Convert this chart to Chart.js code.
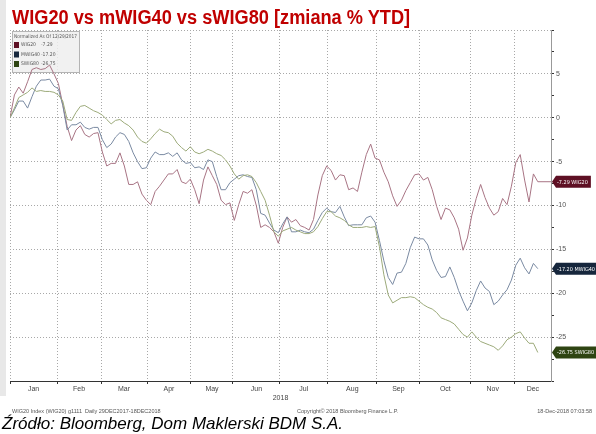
<!DOCTYPE html>
<html>
<head>
<meta charset="utf-8">
<script src="https://cdn.jsdelivr.net/npm/chart.js@4.4.1/dist/chart.umd.min.js"></script>
<style>
  body { margin: 0; width: 596px; height: 434px; background: #fff; position: relative; overflow: hidden; }
  #strip { position: absolute; left: 0; top: 0; width: 6px; height: 396px; background: #e8e8e8; }
  #title { position: absolute; left: 12px; top: 7px; font: bold 20px/1 "Liberation Sans", Arial, sans-serif; color: #c00000; white-space: nowrap; transform: scaleX(0.91); transform-origin: left top; }
  #c { position: absolute; left: 0; top: 0; }
  #source { position: absolute; left: 2px; top: 415px; font: italic 17px/1 "Liberation Sans", Arial, sans-serif; color: #000; white-space: nowrap; }
</style>
</head>
<body>
<div id="strip"></div>
<canvas id="c" width="596" height="434"></canvas>
<div id="title">WIG20 vs mWIG40 vs sWIG80 [zmiana % YTD]</div>
<div id="source">Źródło: Bloomberg, Dom Maklerski BDM S.A.</div>
<script>
// trading days since 29 Dec 2017, sampled every 2 sessions
const days = Array.from({ length: 121 }, (_, i) => i * 2);

const wig20 = [
  0, 2.6, 3.5, 2.8, 4.1, 5.5, 5.7, 5.5, 5.6, 6.0,
  5.0, 3.9, 1.5, -1.0, -2.6, -1.4, -0.9, -1.9, -2.2, -1.8,
  -1.7, -3.9, -5.5, -5.2, -5.2, -4.0, -5.5, -7.6, -7.6, -7.3,
  -8.7, -9.4, -9.9, -8.4, -7.8, -7.1, -6.4, -6.4, -5.9, -7.3,
  -7.5, -7.0, -8.2, -9.8, -7.1, -5.6, -6.6, -7.6, -9.4, -9.9,
  -9.7, -11.7, -9.9, -8.4, -8.6, -8.2, -10.0, -12.5, -12.2, -12.5,
  -13.0, -14.3, -12.5, -11.3, -11.9, -11.6, -12.3, -12.5, -12.8, -11.6,
  -8.8, -6.6, -5.5, -6.0, -7.1, -6.5, -6.6, -8.2, -8.0, -8.4,
  -6.2, -4.2, -3.0, -4.6, -4.8, -6.2, -7.3, -8.9, -10.1, -9.4,
  -8.3, -7.4, -6.5, -6.4, -7.1, -6.8, -8.2, -10.1, -11.6, -10.3,
  -10.5, -11.4, -12.7, -15.1, -13.7, -11.1, -9.2, -7.6, -9.1, -10.3,
  -11.1, -10.7, -9.2, -9.9, -7.8, -5.1, -4.2, -7.1, -9.6, -6.4,
  -7.29
];

const mwig40 = [
  0, 0.9, 1.9, 1.9, 1.1, 2.4, 3.6, 4.3, 4.3, 4.4,
  3.6, 3.3, 1.4, -1.4, -0.8, -0.8, -0.5, -1.1, -1.3, -1.1,
  -1.1, -2.5, -3.4, -3.0, -2.2, -1.7, -1.9, -2.7, -4.0, -5.0,
  -5.8, -5.7, -4.6, -3.9, -4.2, -4.2, -4.0, -4.4, -4.0, -4.8,
  -5.2, -5.1, -5.7, -5.6, -5.9, -4.8, -5.0, -6.7, -8.2, -8.2,
  -7.4, -7.0, -6.6, -6.5, -6.7, -6.8, -8.2, -10.9, -11.1, -12.0,
  -12.8, -13.1, -12.1, -11.3, -13.0, -13.0, -12.8, -13.0, -13.1, -12.7,
  -11.7, -10.8, -10.3, -10.7, -10.8, -10.1, -11.3, -12.3, -12.2, -12.2,
  -12.2, -11.4, -11.2, -11.9, -14.0, -16.3, -18.2, -19.0, -17.7, -17.6,
  -16.6, -14.8, -13.6, -13.8, -13.8, -14.5, -16.2, -17.4, -18.2, -18.1,
  -17.0, -18.2, -19.7, -20.9, -22.0, -21.1, -19.7, -18.6, -19.4, -19.8,
  -21.3, -20.9, -20.2, -19.6, -18.5, -16.8, -16.0, -17.1, -17.8, -16.6,
  -17.20
];

const swig80 = [
  0, 1.1, 2.3, 2.6, 2.9, 3.4, 3.0, 3.1, 3.0, 3.0,
  2.9, 2.6, 1.9, -0.2, -0.3, 0.6, 1.3, 1.4, 1.1, 0.8,
  0.6, 0.3, -0.2, -0.7, -0.3, -0.2, -0.6, -0.9, -1.4, -2.2,
  -2.7, -2.9, -2.4, -1.8, -1.3, -1.6, -1.7, -2.1, -2.9, -3.4,
  -3.8, -3.3, -3.9, -4.1, -3.9, -3.6, -3.8, -4.1, -4.3, -4.8,
  -5.5, -6.4, -7.0, -6.6, -6.5, -6.7, -7.4, -8.4, -9.4, -11.1,
  -13.0, -13.5, -12.9, -12.7, -12.5, -12.8, -13.0, -13.2, -13.2, -13.0,
  -12.4, -11.5, -10.7, -10.7, -11.2, -11.4, -11.7, -12.2, -12.5, -12.5,
  -12.5, -12.4, -12.5, -12.4, -14.7, -17.9, -20.2, -21.1, -20.8, -20.5,
  -20.5, -20.4, -20.5, -20.9, -21.3, -21.6, -21.8, -22.2, -22.8, -23.0,
  -23.2, -23.5, -24.1, -24.7, -25.0, -24.4, -25.0, -25.5, -25.7, -25.9,
  -26.1, -26.5, -26.0, -25.3, -25.0, -24.6, -24.4, -25.1, -25.7, -25.7,
  -26.75
];

const seriesNames = ['WIG20', 'MWIG40', 'SWIG80'];
const lineColors = ['#a87484', '#7a8aa2', '#9caa7a'];
const tagColors = ['#5e1024', '#16263c', '#2e4412'];

const monthNames = ['Jan', 'Feb', 'Mar', 'Apr', 'May', 'Jun', 'Jul', 'Aug', 'Sep', 'Oct', 'Nov', 'Dec'];
// first session of each month, in trading days
const monthStarts = [0, 21.4, 41.4, 62.3, 82.3, 101.4, 122.7, 144.5, 166.8, 186.4, 209.5, 229.5];
const dayMax = 246;
const monthMids = monthStarts.map((s, i) => (s + (monthStarts[i + 1] ?? dayMax)) / 2);

const yMin = -30, yMax = 10;

const smallFont = '"Liberation Sans", Arial, sans-serif';
const narrowFont = '"Liberation Sans Narrow", "DejaVu Sans Condensed", "Liberation Sans", Arial, sans-serif';

const decorations = {
  id: 'decorations',
  beforeDatasetsDraw(chart) {
    const ctx = chart.ctx;
    ctx.save();
    ctx.fillStyle = 'rgba(238,238,238,0.85)';
    ctx.fillRect(12, 31, 67, 41);
    ctx.strokeStyle = '#b4b4b4';
    ctx.lineWidth = 1;
    ctx.strokeRect(12.5, 31.5, 67, 41);
    ctx.font = '5px ' + narrowFont;
    ctx.fillStyle = '#555';
    ctx.textBaseline = 'middle';
    ctx.fillText('Normalized As Of 12/29/2017', 14, 37, 63);
    const last = [wig20, mwig40, swig80].map(a => a[a.length - 1].toFixed(2));
    seriesNames.forEach((n, i) => {
      const y = 45 + i * 9.5;
      ctx.fillStyle = tagColors[i];
      ctx.fillRect(14, y - 3, 5, 6);
      ctx.fillStyle = '#555';
      ctx.fillText(n, 21, y);
      ctx.fillText(last[i], 41, y);
    });
    ctx.restore();
  },
  afterDraw(chart) {
    const { ctx, scales } = chart;
    const ys = scales.y, xs = scales.x;
    ctx.save();
    // connector for WIG20 last value
    const yW = ys.getPixelForValue(wig20[wig20.length - 1]);
    ctx.strokeStyle = lineColors[0];
    ctx.lineWidth = 1;
    ctx.beginPath();
    ctx.moveTo(xs.getPixelForValue(days[days.length - 1]), yW);
    ctx.lineTo(551, yW);
    ctx.stroke();

    ctx.font = '5.5px ' + narrowFont;
    ctx.textBaseline = 'middle';
    [wig20, mwig40, swig80].forEach((arr, i) => {
      const v = arr[arr.length - 1];
      const y = ys.getPixelForValue(v);
      const txt = v.toFixed(2) + ' ' + seriesNames[i];
      const w = Math.min(ctx.measureText(txt).width + 8, 44);
      const x0 = 552;
      ctx.fillStyle = tagColors[i];
      ctx.beginPath();
      ctx.moveTo(x0, y);
      ctx.lineTo(x0 + 4, y - 6);
      ctx.lineTo(x0 + w, y - 6);
      ctx.lineTo(x0 + w, y + 6);
      ctx.lineTo(x0 + 4, y + 6);
      ctx.closePath();
      ctx.fill();
      ctx.fillStyle = '#fff';
      ctx.fillText(txt, x0 + 5, y + 0.5, w - 6);
    });

    ctx.font = '5.5px ' + smallFont;
    ctx.fillStyle = '#555';
    ctx.fillText('WIG20 Index (WIG20) g1111  Daily 29DEC2017-18DEC2018', 12, 411);
    ctx.fillText('Copyright\u00a9 2018 Bloomberg Finance L.P.', 297, 411);
    ctx.textAlign = 'right';
    ctx.fillText('18-Dec-2018 07:03:58', 592, 411);
    ctx.restore();
  }
};

const data = {
  datasets: [wig20, mwig40, swig80].map((vals, i) => ({
    label: seriesNames[i],
    data: vals.map((v, j) => ({ x: days[j], y: v })),
    borderColor: lineColors[i],
    borderWidth: 1,
    pointRadius: 0,
    tension: 0,
    fill: false,
  })).reverse(),
};

const config = {
  type: 'line',
  data: data,
  options: {
    responsive: false,
    animation: false,
    layout: { padding: { left: 10, top: 30, right: 0, bottom: 0 } },
    plugins: { legend: { display: false }, tooltip: { enabled: false } },
    scales: {
      x: {
        type: 'linear',
        min: 0,
        max: dayMax,
        afterBuildTicks: (scale) => {
          scale.ticks = monthStarts.concat(monthMids).sort((a, b) => a - b).map(v => ({ value: v }));
        },
        afterFit: (scale) => { scale.height = 53; },
        grid: {
          color: (c) => c.tick && monthStarts.includes(c.tick.value) ? '#a8a8a8' : 'rgba(0,0,0,0)',
          tickColor: (c) => c.tick && monthStarts.includes(c.tick.value) ? '#333' : 'rgba(0,0,0,0)',
          tickLength: 3,
          lineWidth: 1,
        },
        border: { display: true, color: '#333', width: 1, dash: [1, 2] },
        ticks: {
          autoSkip: false,
          maxRotation: 0,
          padding: 1,
          color: '#444',
          font: { size: 7, family: smallFont },
          callback: (v) => {
            const i = monthMids.indexOf(v);
            return i >= 0 ? monthNames[i] : '';
          },
        },
        title: {
          display: true,
          text: '2018',
          color: '#444',
          font: { size: 7, family: smallFont },
          padding: { top: 0, bottom: 32 },
        },
      },
      y: {
        position: 'right',
        min: yMin,
        max: yMax,
        afterBuildTicks: (scale) => {
          const t = [];
          for (let v = yMax; v >= yMin; v -= 2.5) t.push({ value: v });
          scale.ticks = t;
        },
        afterFit: (scale) => { scale.width = 45; },
        grid: {
          color: (c) => c.tick && c.tick.value % 5 === 0 ? '#a8a8a8' : 'rgba(0,0,0,0)',
          tickColor: '#333',
          tickLength: 3,
          lineWidth: 1,
        },
        border: { display: true, color: '#999', width: 1, dash: [1, 2] },
        ticks: {
          autoSkip: false,
          padding: 2,
          color: '#555',
          font: { size: 7, family: smallFont },
          callback: (v) => (v % 5 === 0 && v < yMax && v > yMin) ? String(v) : '',
        },
      },
    },
  },
  plugins: [decorations],
};

const myChart = new Chart(document.getElementById('c'), config);
</script>
</body>
</html>
